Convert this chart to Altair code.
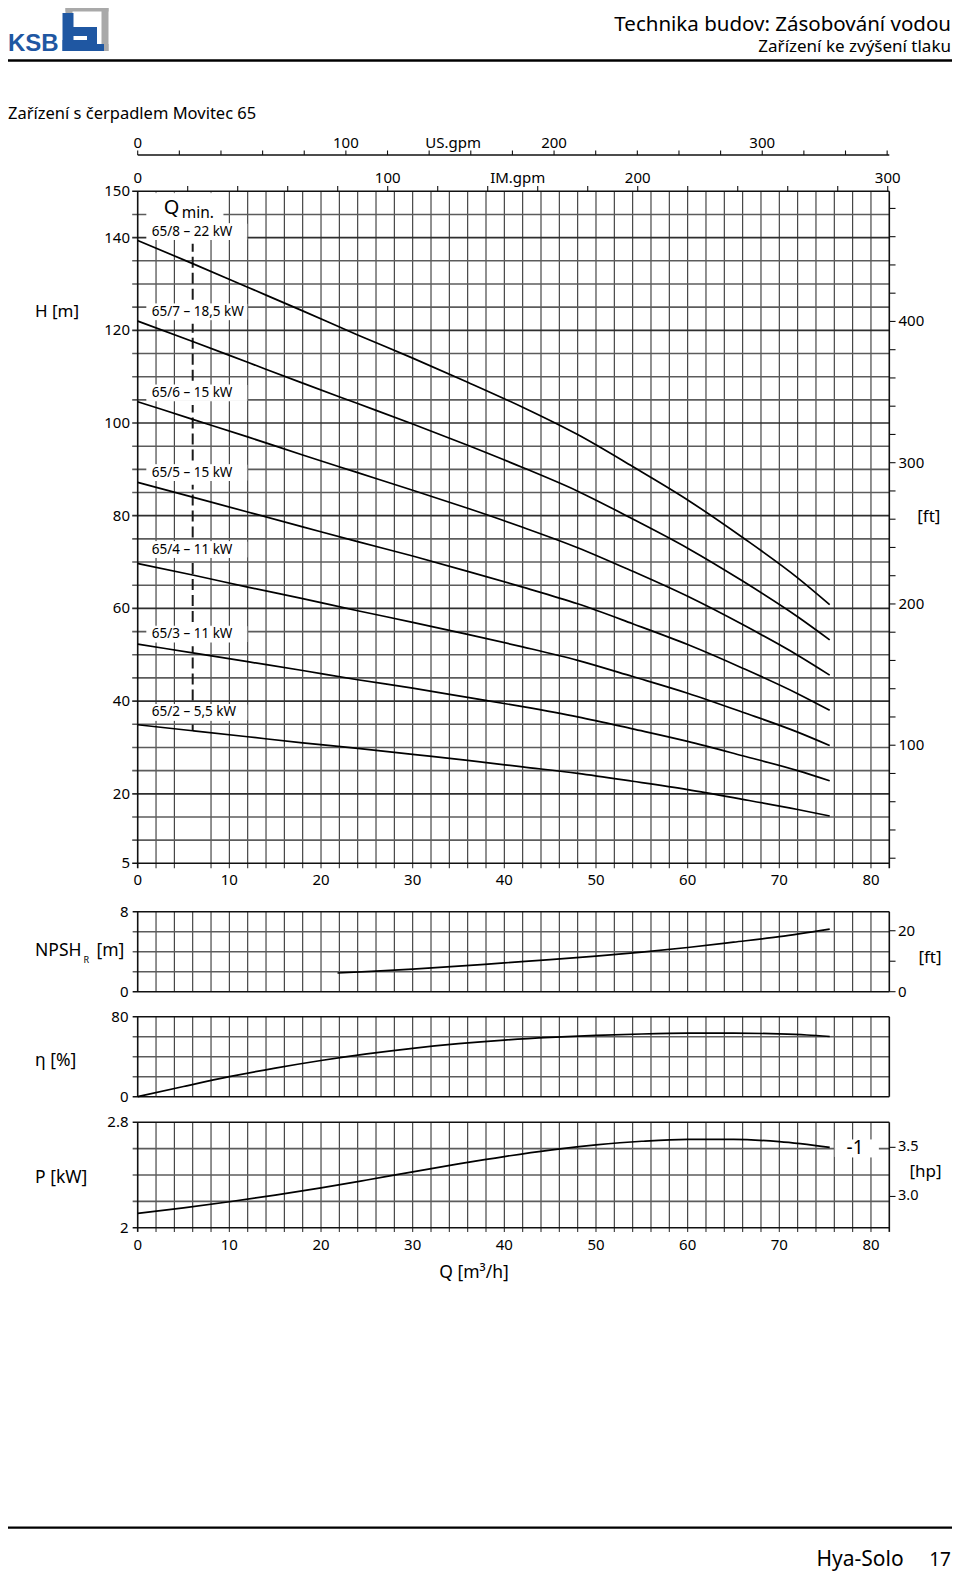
import altair as alt
import pandas as pd

FONT = "Noto Sans"

# ---------------- data ----------------
Q_H = [0, 6, 12, 18, 24, 30, 36, 42, 48, 54, 60, 66, 72, 75.5]
H_65_8 = [139.4, 134.4, 129.3, 124.2, 119.0, 114.0, 108.8, 103.4, 97.5, 90.6, 83.4, 75.3, 66.6, 60.8]
H_65_7 = [122.0, 117.6, 113.1, 108.6, 104.2, 99.8, 95.2, 90.4, 85.3, 79.3, 73.0, 65.9, 58.2, 53.2]
H_65_6 = [104.6, 100.8, 97.0, 93.1, 89.3, 85.5, 81.6, 77.5, 73.1, 68.0, 62.6, 56.5, 49.9, 45.6]
H_65_5 = [87.2, 84.0, 80.8, 77.6, 74.4, 71.3, 68.0, 64.6, 61.0, 56.7, 52.2, 47.1, 41.6, 38.0]
H_65_4 = [69.7, 67.2, 64.6, 62.1, 59.5, 57.0, 54.4, 51.7, 48.8, 45.3, 41.7, 37.6, 33.3, 30.4]
H_65_3 = [52.3, 50.4, 48.5, 46.6, 44.6, 42.8, 40.8, 38.8, 36.6, 34.0, 31.3, 28.2, 25.0, 22.8]
H_65_2 = [34.9, 33.6, 32.3, 31.0, 29.8, 28.5, 27.2, 25.8, 24.4, 22.7, 20.9, 18.8, 16.6, 15.2]
curve_names = ["65/8 – 22 kW", "65/7 – 18,5 kW", "65/6 – 15 kW", "65/5 – 15 kW",
               "65/4 – 11 kW", "65/3 – 11 kW", "65/2 – 5,5 kW"]
curve_values = [H_65_8, H_65_7, H_65_6, H_65_5, H_65_4, H_65_3, H_65_2]
label_H = [141.3, 124.0, 106.5, 89.3, 72.7, 54.45, 37.55]

Q_MIN = 6
H_QMIN_LOW = 33.6

Q_npsh = [21.8, 26, 30, 35, 40, 45, 50, 55, 60, 65, 70, 75.5]
npsh = [1.87, 2.05, 2.25, 2.55, 2.88, 3.2, 3.55, 3.95, 4.42, 4.95, 5.5, 6.25]

Q_eta = [0, 5, 10, 15, 20, 25, 30, 35, 40, 45, 50, 55, 60, 65, 70, 73, 75.5]
eta = [0, 10.2, 20, 28.6, 36.2, 42.8, 48.4, 53.0, 56.6, 59.3, 61.3, 62.7, 63.5, 63.6, 62.8, 61.7, 60.2]

Q_P = [0, 5, 10, 15, 20, 25, 30, 35, 40, 45, 50, 55, 60, 65, 70, 75.5]
P_kw = [2.109, 2.150, 2.197, 2.247, 2.302, 2.362, 2.424, 2.484, 2.540, 2.589, 2.628, 2.656,
        2.671, 2.671, 2.653, 2.61]

q_ticks = [0, 10, 20, 30, 40, 50, 60, 70, 80]
h_ticks = [5, 20, 40, 60, 80, 100, 120, 140, 150]
ft_ticks = [100, 200, 300, 400]
us_ticks = [0, 100, 200, 300]
im_ticks = [0, 100, 200, 300]
npsh_ticks = [0, 8]
eta_ticks = [0, 80]
p_ticks = [2.0, 2.8]
p_tick_labels = ["2", "2.8"]
npsh_ft_ticks = [0, 20]
hp_ticks = [3.0, 3.5]

# ---------------- scales ----------------
M3H_TO_USGPM = 4.402868
M3H_TO_IMGPM = 3.666154
M_TO_FT = 1 / 0.3048
KW_TO_HP = 1 / 0.7457

XR = [129.7, 881.3]
SX = alt.Scale(domain=[0, 82], range=XR, nice=False, zero=False)
SUS = alt.Scale(domain=[0, 82 * M3H_TO_USGPM], range=XR, nice=False, zero=False)
SIM = alt.Scale(domain=[0, 82 * M3H_TO_IMGPM], range=XR, nice=False, zero=False)
HR = [855.3, 183.3]
SH = alt.Scale(domain=[5, 150], range=HR, nice=False, zero=False)
SFT = alt.Scale(domain=[5 * M_TO_FT, 150 * M_TO_FT], range=HR, nice=False, zero=False)
NR = [983.7, 903.7]
SN = alt.Scale(domain=[0, 8], range=NR, nice=False, zero=False)
SNFT = alt.Scale(domain=[0, 8 * M_TO_FT], range=NR, nice=False, zero=False)
SE = alt.Scale(domain=[0, 80], range=[1088.7, 1008.7], nice=False, zero=False)
PR = [1219.7, 1114.3]
SP = alt.Scale(domain=[2, 2.8], range=PR, nice=False, zero=False)
SHP = alt.Scale(domain=[2 * KW_TO_HP, 2.8 * KW_TO_HP], range=PR, nice=False, zero=False)

GRID_V = "#353535"
GRID_H = "#5c5c5c"
BORDER = "#111111"
BLUE = "#1f57a2"
BOXC = "#ffffff"
BOX_HALF = 1.7
DASH_GAP = 0.9

layers = []


def vrules(qvals, yscale, ylo, yhi, color, width, xscale=SX):
    df = pd.DataFrame({"q": qvals, "a": [ylo] * len(qvals), "b": [yhi] * len(qvals)})
    return alt.Chart(df).mark_rule(color=color, strokeWidth=width).encode(
        x=alt.X("q:Q", scale=xscale, axis=None),
        y=alt.Y("a:Q", scale=yscale, axis=None),
        y2="b:Q",
    )


def hrules(vals, yscale, xlo, xhi, color, width, xscale=SX):
    df = pd.DataFrame({"v": vals, "a": [xlo] * len(vals), "b": [xhi] * len(vals)})
    return alt.Chart(df).mark_rule(color=color, strokeWidth=width).encode(
        x=alt.X("a:Q", scale=xscale, axis=None),
        x2="b:Q",
        y=alt.Y("v:Q", scale=yscale, axis=None),
    )


def ylabels(vals, labels, yscale, xpix, align, size=15):
    df = pd.DataFrame({"v": vals, "t": labels})
    return alt.Chart(df).mark_text(align=align, baseline="middle", font=FONT,
                                   fontSize=size, color="black").encode(
        x=alt.value(xpix), y=alt.Y("v:Q", scale=yscale, axis=None), text="t:N")


def xlabels(vals, labels, xscale, ypix, size=15):
    df = pd.DataFrame({"v": vals, "t": labels})
    return alt.Chart(df).mark_text(align="center", baseline="middle", font=FONT,
                                   fontSize=size, color="black").encode(
        y=alt.value(ypix), x=alt.X("v:Q", scale=xscale, axis=None), text="t:N")


def ftext(txt, x, y, size, align="left", baseline="middle", color="black",
          weight="normal", font=FONT):
    df = pd.DataFrame({"t": [txt]})
    return alt.Chart(df).mark_text(align=align, baseline=baseline, font=font,
                                   fontSize=size, color=color, fontWeight=weight).encode(
        x=alt.value(x), y=alt.value(y), text="t:N")


def prule(x1, x2, y1, y2, color, width):
    df = pd.DataFrame({"d": [0]})
    enc = dict(x=alt.value(x1), y=alt.value(y1))
    if x2 is not None:
        enc["x2"] = alt.value(x2)
    if y2 is not None:
        enc["y2"] = alt.value(y2)
    return alt.Chart(df).mark_rule(color=color, strokeWidth=width).encode(**enc)


# ---------------- header ----------------
layers.append(ftext("Technika budov: Zásobování vodou", 943, 16.5, 20.5, align="right"))
layers.append(ftext("Zařízení ke zvýšení tlaku", 943, 38.5, 17, align="right"))
layers.append(prule(-8, 944, 52.5, None, "black", 2.5))
layers.append(ftext("Zařízení s čerpadlem Movitec 65", 0, 106, 16.5))

# logo
layers.append(prule(57.5, 100.5, 0, None, "#a9a9a9", 7))
layers.append(prule(57.5, 100.5, 39.5, None, "#a9a9a9", 7))
layers.append(prule(97, None, -3.5, 43, "#a9a9a9", 7))
layers.append(prule(61, None, -3.5, 12, "#a9a9a9", 7))
layers.append(prule(60, None, 5, 43, BLUE, 11))
layers.append(prule(54.5, 89, 37.5, None, BLUE, 11))
layers.append(prule(60, 85, 23.5, None, BLUE, 9))
layers.append(prule(84, None, 19, 43, BLUE, 10))
layers.append(prule(89, 96, 39.5, None, BLUE, 7))
layers.append(ftext("KSB", 0, 43, 24, baseline="alphabetic", color=BLUE,
                    weight="bold", font="Liberation Sans"))

# ---------------- top gpm axes ----------------
layers.append(prule(129.7, 881.3, 147, None, BORDER, 1.3))
dfu = pd.DataFrame({"g": list(range(0, 361, 20))})
layers.append(alt.Chart(dfu).mark_rule(color=BORDER, strokeWidth=1.1).encode(
    x=alt.X("g:Q", scale=SUS, axis=None), y=alt.value(142.5), y2=alt.value(147)))
layers.append(xlabels(us_ticks, [str(v) for v in us_ticks], SUS, 135.3))
layers.append(xlabels([151.5], ["US.gpm"], SUS, 135.3))
dfi = pd.DataFrame({"g": list(range(20, 301, 20))})
layers.append(alt.Chart(dfi).mark_rule(color=BORDER, strokeWidth=1.1).encode(
    x=alt.X("g:Q", scale=SIM, axis=None), y=alt.value(178), y2=alt.value(183.3)))
layers.append(xlabels(im_ticks, [str(v) for v in im_ticks], SIM, 170.3))
layers.append(xlabels([152], ["IM.gpm"], SIM, 170.3))

# ---------------- main H panel grid ----------------
qgrid = [q for q in range(2, 81, 2) if q != Q_MIN]
layers.append(vrules(qgrid, SH, 3.92, 150, GRID_V, 1.1))
hgrid_light = [h for h in range(10, 150, 5) if h % 20 != 0]
hgrid_dark = [h for h in range(20, 150, 20)]
layers.append(hrules(hgrid_light, SH, -0.6, 82, GRID_H, 1.6))
layers.append(hrules(hgrid_dark, SH, -0.6, 82, "#2e2e2e", 1.7))
layers.append(hrules([5, 150], SH, -0.6, 82, BORDER, 1.6))
layers.append(vrules([0, 82], SH, 3.92, 150, BORDER, 1.6))

ft_minor = list(range(20, 481, 20))
layers.append(hrules(ft_minor, SFT, 82, 82.68, BORDER, 1.1))
layers.append(ylabels(ft_ticks, [str(v) for v in ft_ticks], SFT, 890.5, "left"))
layers.append(ftext("[ft]", 920.8, 508.8, 17, align="center"))

# Qmin dashed line, in pieces between the label boxes
edges = [H_QMIN_LOW] + [e for h in sorted(label_H)
                        for e in (h - BOX_HALF - DASH_GAP, h + BOX_HALF + DASH_GAP)]
edges = edges[:-1]
seg_lo = edges[0::2]
seg_hi = edges[1::2]
dq = pd.DataFrame({"q": [Q_MIN] * len(seg_lo), "a": seg_lo, "b": seg_hi})
layers.append(alt.Chart(dq).mark_rule(color="#1a1a1a", strokeWidth=2, strokeDash=[11, 5]).encode(
    x=alt.X("q:Q", scale=SX, axis=None), y=alt.Y("a:Q", scale=SH, axis=None), y2="b:Q"))

# label boxes
box_df = pd.DataFrame({"q1": [1.0] * len(label_H) + [1.0],
                       "q2": [11.9] * len(label_H) + [9.3],
                       "h1": [h - BOX_HALF for h in label_H] + [142.6],
                       "h2": [h + BOX_HALF for h in label_H] + [149.6]})
layers.append(alt.Chart(box_df).mark_rect(fill=BOXC, stroke=BOXC, opacity=1).encode(
    x=alt.X("q1:Q", scale=SX, axis=None), x2="q2:Q",
    y=alt.Y("h1:Q", scale=SH, axis=None), y2="h2:Q"))

# curves
rows = []
for name, vals in zip(curve_names, curve_values):
    for q, h in zip(Q_H, vals):
        rows.append({"curve": name, "Q": q, "H": h})
curves_df = pd.DataFrame(rows)
layers.append(alt.Chart(curves_df).mark_line(color="black", strokeWidth=1.7,
                                             interpolate="monotone").encode(
    x=alt.X("Q:Q", scale=SX, axis=None),
    y=alt.Y("H:Q", scale=SH, axis=None),
    detail="curve:N"))

lab_df = pd.DataFrame({"t": curve_names, "H": label_H, "Q": [1.53] * len(label_H)})
layers.append(alt.Chart(lab_df).mark_text(align="left", baseline="middle", font=FONT,
                                          fontSize=13.5, color="black").encode(
    x=alt.X("Q:Q", scale=SX, axis=None), y=alt.Y("H:Q", scale=SH, axis=None), text="t:N"))

qm_df = pd.DataFrame({"t": ["Q"], "Q": [3.69], "H": [145.1]})
layers.append(alt.Chart(qm_df).mark_text(align="center", baseline="alphabetic", font=FONT,
                                         fontSize=20, color="black").encode(
    x=alt.X("Q:Q", scale=SX, axis=None), y=alt.Y("H:Q", scale=SH, axis=None), text="t:N"))
qm2_df = pd.DataFrame({"t": ["min."], "Q": [4.8], "H": [144.2]})
layers.append(alt.Chart(qm2_df).mark_text(align="left", baseline="alphabetic", font=FONT,
                                          fontSize=15.5, color="black").encode(
    x=alt.X("Q:Q", scale=SX, axis=None), y=alt.Y("H:Q", scale=SH, axis=None), text="t:N"))

layers.append(ylabels(h_ticks, [str(v) for v in h_ticks], SH, 122, "right"))
layers.append(xlabels(q_ticks, [str(v) for v in q_ticks], SX, 872))
layers.append(ftext("H [m]", 27, 304, 17))

# ---------------- NPSH panel ----------------
qall = list(range(2, 81, 2))
layers.append(vrules(qall, SN, 0, 8, GRID_V, 1.1))
layers.append(hrules([2, 4, 6], SN, -0.55, 82, GRID_H, 1.6))
layers.append(hrules([0, 8], SN, -0.55, 82, BORDER, 1.6))
layers.append(vrules([0, 82], SN, 0, 8, BORDER, 1.6))
layers.append(hrules([0, 10, 20], SNFT, 82, 82.68, BORDER, 1.1))
layers.append(ylabels(npsh_ticks, [str(v) for v in npsh_ticks], SN, 120.5, "right"))
layers.append(ylabels(npsh_ft_ticks, [str(v) for v in npsh_ft_ticks], SNFT, 890, "left"))
layers.append(ftext("[ft]", 922, 950, 17, align="center"))
layers.append(ftext("NPSH", 27, 943, 17.5))
layers.append(ftext("R", 75.5, 952, 9))
layers.append(ftext("[m]", 88.5, 943, 17.5))
dn = pd.DataFrame({"Q": Q_npsh, "v": npsh})
layers.append(alt.Chart(dn).mark_line(color="black", strokeWidth=1.7, interpolate="monotone").encode(
    x=alt.X("Q:Q", scale=SX, axis=None), y=alt.Y("v:Q", scale=SN, axis=None)))

# ---------------- efficiency panel ----------------
layers.append(vrules(qall, SE, 0, 80, GRID_V, 1.1))
layers.append(hrules([20, 40, 60], SE, -0.55, 82, GRID_H, 1.6))
layers.append(hrules([0, 80], SE, -0.55, 82, BORDER, 1.6))
layers.append(vrules([0, 82], SE, 0, 80, BORDER, 1.6))
layers.append(ylabels(eta_ticks, [str(v) for v in eta_ticks], SE, 120.5, "right"))
layers.append(ftext("η [%]", 27, 1053, 17.5))
de = pd.DataFrame({"Q": Q_eta, "v": eta})
layers.append(alt.Chart(de).mark_line(color="black", strokeWidth=1.7, interpolate="monotone").encode(
    x=alt.X("Q:Q", scale=SX, axis=None), y=alt.Y("v:Q", scale=SE, axis=None)))

# ---------------- power panel ----------------
layers.append(vrules(qall, SP, 1.968, 2.8, GRID_V, 1.1))
layers.append(hrules([2.2, 2.4, 2.6], SP, -0.55, 82, GRID_H, 1.6))
layers.append(hrules([2.0, 2.8], SP, -0.55, 82, BORDER, 1.6))
layers.append(vrules([0, 82], SP, 1.968, 2.8, BORDER, 1.6))
layers.append(hrules(hp_ticks, SHP, 82, 82.68, BORDER, 1.1))
layers.append(ylabels(p_ticks, p_tick_labels, SP, 120.5, "right"))
layers.append(ylabels(hp_ticks, ["3.0", "3.5"], SHP, 890, "left", 14.5))
layers.append(ftext("[hp]", 917.5, 1163.7, 17, align="center"))
layers.append(ftext("P [kW]", 27, 1170.3, 17.5))
dp = pd.DataFrame({"Q": Q_P, "v": P_kw})
layers.append(alt.Chart(dp).mark_line(color="black", strokeWidth=1.7, interpolate="monotone").encode(
    x=alt.X("Q:Q", scale=SX, axis=None), y=alt.Y("v:Q", scale=SP, axis=None)))
tag_box = pd.DataFrame({"q1": [76.1], "q2": [80.8], "p1": [2.537], "p2": [2.666]})
layers.append(alt.Chart(tag_box).mark_rect(fill=BOXC, stroke=BOXC, opacity=1).encode(
    x=alt.X("q1:Q", scale=SX, axis=None), x2="q2:Q",
    y=alt.Y("p1:Q", scale=SP, axis=None), y2="p2:Q"))
tag = pd.DataFrame({"t": ["-1"], "Q": [78.26], "v": [2.605]})
layers.append(alt.Chart(tag).mark_text(align="center", baseline="middle", font=FONT,
                                       fontSize=19, color="black").encode(
    x=alt.X("Q:Q", scale=SX, axis=None), y=alt.Y("v:Q", scale=SP, axis=None), text="t:N"))
layers.append(xlabels(q_ticks, [str(v) for v in q_ticks], SX, 1237))
layers.append(ftext("Q [m³/h]", 466, 1265, 17.5, align="center"))

# ---------------- footer ----------------
layers.append(prule(-8, 944, 1519.6, None, "black", 2.2))
layers.append(ftext("Hya-Solo", 895.6, 1557.5, 21, align="right", baseline="alphabetic"))
layers.append(ftext("17", 943, 1557.5, 19, align="right", baseline="alphabetic"))

chart = alt.layer(*layers).resolve_scale(x="independent", y="independent").properties(
    width=944, height=1563, padding=0,
    autosize=alt.AutoSizeParams(type="none"),
).configure_view(stroke=None)

chart.save("out.html", embed_options={"renderer": "svg", "actions": False})
